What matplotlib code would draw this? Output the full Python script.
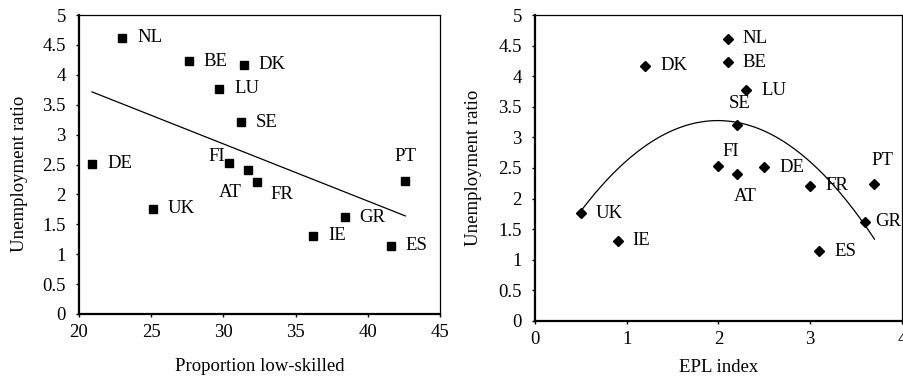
import matplotlib.pyplot as plt
import numpy as np
from matplotlib.ticker import FormatStrFormatter, MultipleLocator

plt.rcParams['font.family'] = ['Liberation Serif', 'DejaVu Serif']
plt.rcParams['font.size'] = 13.5

countries = ['NL', 'BE', 'DK', 'LU', 'SE', 'DE', 'FI', 'AT', 'FR', 'PT', 'UK', 'GR', 'IE', 'ES']
unemp_ratio = [4.62, 4.23, 4.17, 3.77, 3.21, 2.51, 2.53, 2.40, 2.21, 2.23, 1.76, 1.62, 1.31, 1.14]
low_skilled = [23.0, 27.6, 31.4, 29.7, 31.2, 20.9, 30.4, 31.7, 32.3, 42.6, 25.1, 38.4, 36.2, 41.6]
epl_index = [2.1, 2.1, 1.2, 2.3, 2.2, 2.5, 2.0, 2.2, 3.0, 3.7, 0.5, 3.6, 0.9, 3.1]

# label placement: (dx, dy in pixels, horizontal alignment)
left_offsets = {'FI': (-4, 6, 'right'), 'AT': (-18, -22, 'center'),
                'FR': (25, -13, 'center'), 'PT': (0, 24, 'center')}
right_offsets = {'SE': (3, 21, 'center'), 'FI': (12, 15, 'center'),
                 'AT': (8, -22, 'center'), 'PT': (8, 24, 'center'),
                 'GR': (10, 0, 'left')}

fig = plt.figure(figsize=(9.04, 3.81), dpi=100)
ax1 = fig.add_axes([79 / 904, 1 - 314 / 381, 361 / 904, 299 / 381])
ax2 = fig.add_axes([535 / 904, 1 - 320.7 / 381, 367 / 904, 305.4 / 381])

x1 = np.array(low_skilled)
x2 = np.array(epl_index)
y = np.array(unemp_ratio)

# linear trend for low-skilled share
c1 = np.polyfit(x1, y, 1)
xs1 = np.linspace(x1.min(), x1.max(), 50)
ax1.plot(xs1, np.polyval(c1, xs1), color='black', lw=0.9)
ax1.plot(x1, y, 's', color='black', ms=6.3, ls='none')

# quadratic trend for EPL
c2 = np.polyfit(x2, y, 2)
xs2 = np.linspace(x2.min(), x2.max(), 100)
ax2.plot(xs2, np.polyval(c2, xs2), color='black', lw=0.9)
ax2.plot(x2, y, 'D', color='black', ms=4.8, ls='none')

for ax, xv, offs in [(ax1, x1, left_offsets), (ax2, x2, right_offsets)]:
    for name, xx, yy in zip(countries, xv, y):
        dx, dy, ha = offs.get(name, (15, 0, 'left'))
        ax.annotate(name, (xx, yy), xytext=(dx, dy), textcoords='offset pixels',
                    ha=ha, va='center', clip_on=False)

ax1.set_xlim(20, 45)
ax1.xaxis.set_major_locator(MultipleLocator(5))
ax2.set_xlim(0, 4)
ax2.xaxis.set_major_locator(MultipleLocator(1))

for ax in (ax1, ax2):
    ax.set_ylim(0, 5)
    ax.yaxis.set_major_locator(MultipleLocator(0.5))
    ax.yaxis.set_major_formatter(FormatStrFormatter('%g'))
    ax.spines['left'].set_linewidth(1.6)
    ax.spines['bottom'].set_linewidth(1.6)
    ax.spines['top'].set_linewidth(0.9)
    ax.spines['right'].set_linewidth(0.9)
    ax.tick_params(axis='y', direction='out', length=2.5, width=1, pad=7)
    ax.tick_params(axis='x', direction='out', length=2.5, width=1, pad=5)
    ax.set_ylabel('Unemployment ratio')

ax1.set_xlabel('Proportion low-skilled', va='center')
ax2.set_xlabel('EPL index', va='center')
ax1.xaxis.set_label_coords(0.5, -0.177)
ax2.xaxis.set_label_coords(0.5, -0.154)
ax1.yaxis.set_label_coords(-0.141, 0.47)
ax2.yaxis.set_label_coords(-0.144, 0.50)

fig.savefig('out.png', dpi=100)
